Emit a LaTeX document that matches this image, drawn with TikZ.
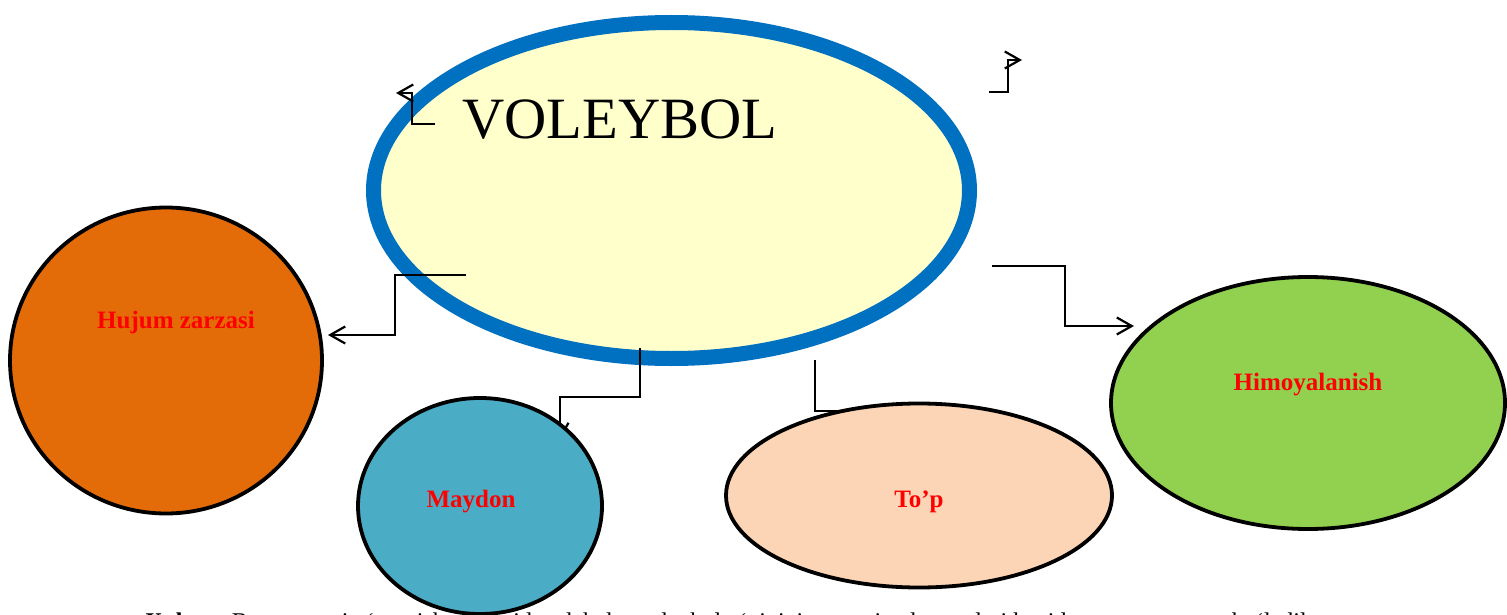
\documentclass[tikz,border=0pt]{standalone}
\usepackage{fontspec}
\setmainfont{Liberation Serif}
\usetikzlibrary{arrows.meta,shapes.geometric}
\definecolor{vblue}{HTML}{0070C0}
\definecolor{vyellow}{HTML}{FFFFCC}
\definecolor{vorange}{HTML}{E36C09}
\definecolor{vteal}{HTML}{4BACC6}
\definecolor{vpeach}{HTML}{FBD5B5}
\definecolor{vgreen}{HTML}{92D050}
\begin{document}
\begin{tikzpicture}[x=1pt,y=-1pt,
  bubble/.style={ellipse,draw=black,line width=3.8pt,inner sep=0pt,outer sep=0pt},
  lbl/.style={text=red,font=\fontsize{25}{28}\selectfont\bfseries},
  conn/.style={draw=black,line width=2.2pt},
  arr/.style={conn,-{Straight Barb[length=15pt,width=17pt,line width=2.2pt]}}]
\useasboundingbox (0,0) rectangle (1507,615);
\clip (0,0) rectangle (1507,615);
\fill[white] (0,0) rectangle (1507,615);

% main ellipse
\node[ellipse,draw=vblue,fill=vyellow,line width=15pt,inner sep=0pt,
      minimum width=596pt,minimum height=336pt] (main) at (671.5,190.5) {};
\node[anchor=base west,font=\fontsize{58.5}{60}\selectfont,inner sep=0pt] (title) at (462,139) {VOLEYBOL};

% coordinates for connectors
\coordinate (c1s) at (466,275);
\coordinate (c1e) at (328,335);
\coordinate (c2s) at (640,348);
\coordinate (c2e) at (560,440);
\coordinate (c3s) at (815,360);
\coordinate (c3e) at (890,411);
\coordinate (c4s) at (992,266);
\coordinate (c4e) at (1134,326);
\coordinate (c5s) at (435,124);
\coordinate (c5e) at (396,93);
\coordinate (c6s) at (989,92);
\coordinate (c6e) at (1022,60);

% connectors
\draw[arr] (c1s) -- (395,275) |- (c1e);
\draw[arr] (c2s) -- (640,397) -| (c2e);
\draw[conn] (c3s) |- (c3e);
\draw[arr] (c4s) -- (1065,266) |- (c4e);
\draw[arr] (c5s) -| (412,93) -- (c5e);
\draw[arr] (c6s) -| (1008,60) -- (c6e);

% satellite bubbles
\node[bubble,fill=vorange,minimum width=312pt,minimum height=306pt] (hujum) at (166,360.5) {};
\node[bubble,fill=vteal,minimum width=244pt,minimum height=216pt] (maydon) at (480,506) {};
\node[bubble,fill=vpeach,minimum width=386pt,minimum height=184pt] (top) at (919,495.5) {};
\node[bubble,fill=vgreen,minimum width=394pt,minimum height=252pt] (himoya) at (1308,403) {};

\node[lbl] (hujumlbl) at (176,322) {Hujum zarzasi};
\node[lbl] (maydonlbl) at (471,502) {Maydon};
\node[lbl] (toplbl) at (919,502) {To’p};
\node[lbl] (himoyalbl) at (1308,385) {Himoyalanish};

% caption (cut off at the bottom edge, as in the reference)
\node[anchor=base west,inner sep=0pt,font=\fontsize{24}{28}\selectfont] (caption) at (145,629)
  {\textbf{Xulosa:} Bu mavzuni o‘rganish natijasida talabalar voleybol o‘yinining asosiy elementlari haqida tasavvurga ega bo‘ladilar};
\end{tikzpicture}
\end{document}
